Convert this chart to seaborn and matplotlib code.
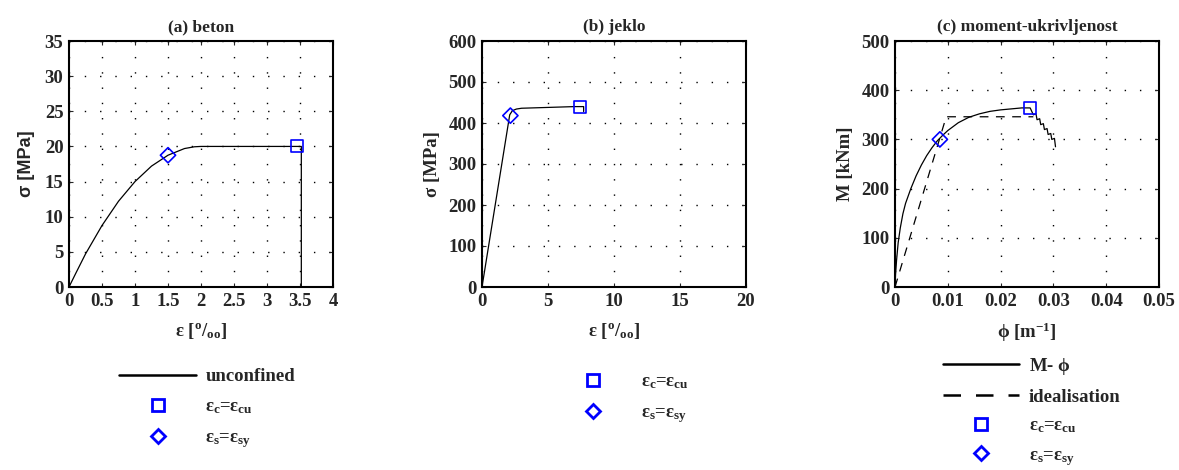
import matplotlib
matplotlib.use("Agg")
import matplotlib.pyplot as plt
import seaborn as sns
from matplotlib.lines import Line2D
from matplotlib.ticker import FuncFormatter

# -----------------------------
# Podatki
# -----------------------------
# (a) beton: sigma-epsilon
beton_eps = [0.0, 0.1, 0.25, 0.5, 0.75, 1.0, 1.25, 1.5, 1.75, 1.9, 2.0, 3.5, 3.52, 3.52]
beton_sig = [0.0, 1.9, 4.7, 8.75, 12.2, 15.0, 17.2, 18.75, 19.7, 19.95, 20.0, 20.0, 20.0, 0.0]
beton_cu = (3.46, 20.0)
beton_sy = (1.5, 18.75)

# (b) jeklo: sigma-epsilon
jeklo_eps = [0.0, 2.1, 2.3, 2.6, 3.0, 4.0, 5.0, 6.0, 7.0, 7.7, 7.7]
jeklo_sig = [0.0, 420.0, 430.0, 434.0, 436.0, 437.0, 438.0, 439.0, 440.0, 440.0, 428.0]
jeklo_cu = (7.4, 440.0)
jeklo_sy = (2.15, 418.0)

# (c) moment-ukrivljenost
mphi_phi = [0.0, 0.0001, 0.0003, 0.0006, 0.001, 0.0015, 0.002, 0.003, 0.004, 0.005,
            0.006, 0.007, 0.008, 0.009, 0.010, 0.012, 0.014, 0.016, 0.018, 0.020,
            0.022, 0.024, 0.0256,
            0.0262, 0.0267, 0.0269, 0.0274, 0.0276, 0.0281, 0.0283, 0.0288, 0.0290,
            0.0295, 0.0297, 0.0302, 0.0304]
mphi_m = [0.0, 25.0, 55.0, 90.0, 120.0, 149.0, 170.0, 200.0, 226.0, 248.0,
          267.0, 283.0, 297.0, 308.0, 318.0, 334.0, 345.0, 352.0, 357.0, 360.0,
          362.0, 364.0, 364.0,
          350.0, 352.0, 340.0, 342.0, 330.0, 332.0, 320.0, 322.0, 310.0,
          312.0, 300.0, 302.0, 285.0]
ideal_phi = [0.0, 0.0097, 0.0128, 0.0262]
ideal_m = [0.0, 346.0, 346.0, 346.0]
mphi_cu = (0.0256, 363.0)
mphi_sy = (0.0085, 300.0)

# -----------------------------
# Stil
# -----------------------------
sns.set_style("ticks")
plt.rcParams["font.family"] = ["Liberation Serif", "DejaVu Serif"]
plt.rcParams.update({
    "font.weight": "bold",
    "axes.labelweight": "bold",
    "axes.titleweight": "bold",
    "mathtext.fontset": "custom",
    "mathtext.rm": "Liberation Serif:bold",
    "mathtext.it": "Liberation Serif:bold",
    "mathtext.bf": "Liberation Serif:bold",
    "xtick.direction": "in",
    "ytick.direction": "in",
    "xtick.top": True,
    "ytick.right": True,
})

BLUE = "#0000ff"
LBL_CU = r"$\varepsilon_c$=$\varepsilon_{cu}$"
LBL_SY = r"$\varepsilon_s$=$\varepsilon_{sy}$"
XLBL_EPS = r"$\varepsilon$ [$^{o}$/$_{oo}$]"

fig = plt.figure(figsize=(11.79, 4.70), dpi=100)
W, H = 1179, 470
axes = [fig.add_axes([x0 / W, (H - 287) / H, 264 / W, 246 / H]) for x0 in (69, 482, 895)]


def style_axes(ax, xlim, ylim, xstep, ystep, title, xlabel, ylabel, ylabel_family=None):
    ax.set_xlim(*xlim)
    ax.set_ylim(*ylim)
    xt = [xlim[0] + i * xstep for i in range(int(round((xlim[1] - xlim[0]) / xstep)) + 1)]
    yt = [ylim[0] + i * ystep for i in range(int(round((ylim[1] - ylim[0]) / ystep)) + 1)]
    ax.set_xticks(xt)
    ax.set_yticks(yt)
    fmt = FuncFormatter(lambda v, p: f"{v:g}")
    ax.xaxis.set_major_formatter(fmt)
    ax.yaxis.set_major_formatter(fmt)
    ax.tick_params(labelsize=13.5, length=3, width=0.8, pad=4)
    ax.grid(True, color="black", linestyle=(0, (1, 10)), linewidth=1.0)
    for s in ax.spines.values():
        s.set_linewidth(1.5)
        s.set_color("black")
    ax.set_title(title, fontsize=12.5, pad=7)
    ax.set_xlabel(xlabel, fontsize=13.5, labelpad=8)
    if ylabel_family:
        ax.set_ylabel(ylabel, fontsize=13, family=ylabel_family, labelpad=7)
    else:
        ax.set_ylabel(ylabel, fontsize=13.5, labelpad=5)


def markers(ax, cu, sy):
    sns.scatterplot(x=[cu[0]], y=[cu[1]], marker="s", s=75, facecolor="none",
                    edgecolor=BLUE, linewidth=1.2, ax=ax, zorder=5)
    sns.scatterplot(x=[sy[0]], y=[sy[1]], marker="D", s=60, facecolor="none",
                    edgecolor=BLUE, linewidth=1.2, ax=ax, zorder=5)


h_line = Line2D([], [], color="black", linewidth=1.8)
h_dash = Line2D([], [], color="black", linewidth=1.8, dashes=(7, 6))
h_sq = Line2D([], [], color=BLUE, marker="s", markersize=8, markerfacecolor="none",
              markeredgewidth=2, linestyle="none")
h_di = Line2D([], [], color=BLUE, marker="D", markersize=7, markerfacecolor="none",
              markeredgewidth=2, linestyle="none")
leg_kw = dict(frameon=False, fontsize=13.5, handlelength=4.1, handletextpad=0.5,
              borderpad=0, borderaxespad=0, labelspacing=0.7, loc="upper left")

# (a) beton
ax = axes[0]
sns.lineplot(x=beton_eps, y=beton_sig, sort=False, estimator=None, color="black",
             linewidth=0.9, ax=ax)
markers(ax, beton_cu, beton_sy)
style_axes(ax, (0, 4), (0, 35), 0.5, 5, "(a) beton", XLBL_EPS, r"σ [MPa]",
           ylabel_family=["Liberation Sans", "DejaVu Sans"])
ax.legend([h_line, h_sq, h_di], ["unconfined", LBL_CU, LBL_SY],
          bbox_to_anchor=(0.19, -0.33), **leg_kw)

# (b) jeklo
ax = axes[1]
sns.lineplot(x=jeklo_eps, y=jeklo_sig, sort=False, estimator=None, color="black",
             linewidth=0.9, ax=ax)
markers(ax, jeklo_cu, jeklo_sy)
style_axes(ax, (0, 20), (0, 600), 5, 100, "(b) jeklo", XLBL_EPS, r"σ [MPa]")
ax.legend([h_sq, h_di], [LBL_CU, LBL_SY], bbox_to_anchor=(0.275, -0.35), **leg_kw)

# (c) moment-ukrivljenost
ax = axes[2]
sns.lineplot(x=mphi_phi, y=mphi_m, sort=False, estimator=None, color="black",
             linewidth=0.9, ax=ax)
ax.plot(ideal_phi, ideal_m, color="black", linewidth=0.9, dashes=(7, 6))
markers(ax, mphi_cu, mphi_sy)
style_axes(ax, (0, 0.05), (0, 500), 0.01, 100, "(c) moment-ukrivljenost",
           r"$\phi$ [m$^{-1}$]", "M [kNm]")
leg_c = dict(leg_kw, labelspacing=0.62)
ax.legend([h_line, h_dash, h_sq, h_di], [r"M- $\phi$", "idealisation", LBL_CU, LBL_SY],
          bbox_to_anchor=(0.18, -0.28), **leg_c)

fig.savefig("out.png", dpi=100)
